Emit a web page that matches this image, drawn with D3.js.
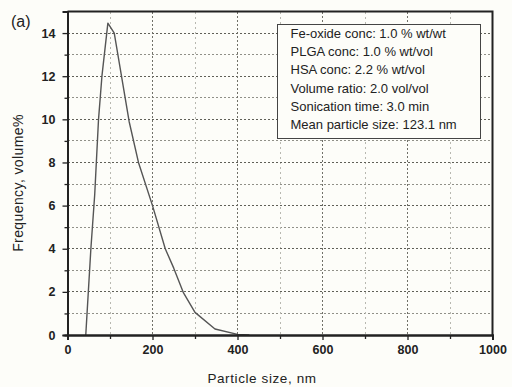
<!DOCTYPE html>
<html>
<head>
<meta charset="utf-8">
<script src="https://cdn.jsdelivr.net/npm/d3@7"></script>
<style>
  body { margin: 0; background: #fdfdf9; }
  text { font-family: "Liberation Sans", Arial, sans-serif; }
</style>
</head>
<body>
<div id="chart"></div>
<script>
// data
const sizes = [43, 55, 64, 73, 81, 95, 110, 145, 167, 200, 230, 250, 273, 300, 347, 400, 428]
const volumes = [0, 4, 6.5, 10, 12, 14.46, 14.0, 9.9, 8.0, 6.0, 4.0, 3.1, 1.95, 1.05, 0.28, 0.03, 0]
const xTicks = [0, 200, 400, 600, 800, 1000]
const yTicks = [0, 2, 4, 6, 8, 10, 12, 14]
const legendLines = [
  'Fe-oxide conc: 1.0 % wt/wt',
  'PLGA conc: 1.0 % wt/vol',
  'HSA conc: 2.2 % wt/vol',
  'Volume ratio: 2.0 vol/vol',
  'Sonication time: 3.0 min',
  'Mean particle size: 123.1 nm'
]

const dimensions = {
  width: 512,
  height: 387,
  margin: { top: 11.5, right: 19.5, bottom: 52, left: 67.5 }
}
dimensions.ctrWidth = dimensions.width - dimensions.margin.left - dimensions.margin.right
dimensions.ctrHeight = dimensions.height - dimensions.margin.top - dimensions.margin.bottom

const svg = d3.select('#chart')
  .append('svg')
  .attr('width', dimensions.width)
  .attr('height', dimensions.height)

const ctr = svg.append('g')
  .attr('transform', `translate(${dimensions.margin.left}, ${dimensions.margin.top})`)

const xScale = d3.scaleLinear().domain([0, 1000]).range([0, dimensions.ctrWidth])
const yScale = d3.scaleLinear().domain([0, 15]).range([dimensions.ctrHeight, 0])

// grid, minor first (snapped to whole pixels: ctr sits on a .5 offset)
const minorX = d3.range(100, 1000, 200)
const minorY = d3.range(1, 15, 2)
const majorX = xTicks.filter(d => d > 0 && d < 1000)
const majorY = yTicks.filter(d => d > 0)

const grid = ctr.append('g').attr('class', 'grid')

const hLines = (vals, color, dash) => grid.append('g').selectAll('line')
  .data(vals)
  .join('line')
  .attr('x1', 0.5).attr('x2', dimensions.ctrWidth)
  .attr('y1', d => Math.round(yScale(d))).attr('y2', d => Math.round(yScale(d)))
  .style('stroke', color).style('stroke-width', 1)
  .style('stroke-dasharray', dash)

const vLines = (vals, color, dash) => grid.append('g').selectAll('line')
  .data(vals)
  .join('line')
  .attr('x1', d => Math.round(xScale(d))).attr('x2', d => Math.round(xScale(d)))
  .attr('y1', 0.5).attr('y2', dimensions.ctrHeight)
  .style('stroke', color).style('stroke-width', 1)
  .style('stroke-dasharray', dash)

hLines(minorY, '#909088', '2,2')
vLines(minorX, '#b8b8b0', '2,3')
hLines(majorY, '#606058', '2,2')
vLines(majorX, '#707068', '2,2')

// frame top/right
ctr.append('path')
  .attr('d', `M0,0H${dimensions.ctrWidth}V${dimensions.ctrHeight}`)
  .style('fill', 'none')
  .style('stroke', '#222')
  .style('stroke-width', 2)

// curve
const points = sizes.map((s, i) => [s, volumes[i]])
const line = d3.line()
  .x(d => xScale(d[0]))
  .y(d => yScale(d[1]))

ctr.append('path')
  .datum(points)
  .attr('d', line)
  .style('fill', 'none')
  .style('stroke', '#555')
  .style('stroke-width', 1.4)
  .style('stroke-linejoin', 'round')

// axes
const xAxisGroup = ctr.append('g')
  .attr('transform', `translate(0, ${dimensions.ctrHeight})`)
xAxisGroup.append('g')
  .call(d3.axisBottom(xScale).tickValues(minorX).tickSize(4).tickFormat(''))
xAxisGroup.append('g')
  .call(d3.axisBottom(xScale).tickValues(xTicks).tickSize(5).tickPadding(5).tickFormat(d3.format('d')))

const yAxisGroup = ctr.append('g')
yAxisGroup.append('g')
  .call(d3.axisLeft(yScale).tickValues(minorY).tickSize(3).tickFormat(''))
yAxisGroup.append('g')
  .call(d3.axisLeft(yScale).tickValues(yTicks).tickSize(5).tickPadding(7))

ctr.selectAll('.domain').style('stroke', '#222').style('stroke-width', 2)
ctr.selectAll('.tick line').style('stroke', '#222').style('stroke-width', 1.3)
ctr.selectAll('.tick text')
  .style('fill', '#222')
  .style('font-size', '12.5px')
  .style('font-weight', 'bold')

// axis labels
xAxisGroup.append('text')
  .attr('x', dimensions.ctrWidth / 2 - 18)
  .attr('y', 48)
  .style('fill', '#222')
  .style('font-size', '13.5px')
  .style('letter-spacing', '0.6px')
  .style('text-anchor', 'middle')
  .text('Particle size, nm')

svg.append('text')
  .attr('transform', 'translate(23, 183) rotate(-90)')
  .style('fill', '#222')
  .style('font-size', '14px')
  .style('letter-spacing', '0.4px')
  .style('text-anchor', 'middle')
  .text('Frequency, volume%')

svg.append('text')
  .attr('x', 11)
  .attr('y', 27)
  .style('fill', '#222')
  .style('font-size', '16px')
  .text('(a)')

// legend box
const legend = svg.append('g')
  .attr('transform', 'translate(277.5, 24.5)')

legend.append('rect')
  .attr('width', 203)
  .attr('height', 114)
  .style('fill', '#fdfdf9')
  .style('stroke', '#444')
  .style('stroke-width', 1)

legend.selectAll('text')
  .data(legendLines)
  .join('text')
  .attr('x', 13)
  .attr('y', (d, i) => 13.5 + i * 18.2)
  .style('fill', '#222')
  .style('font-size', '13px')
  .text(d => d)
</script>
</body>
</html>
